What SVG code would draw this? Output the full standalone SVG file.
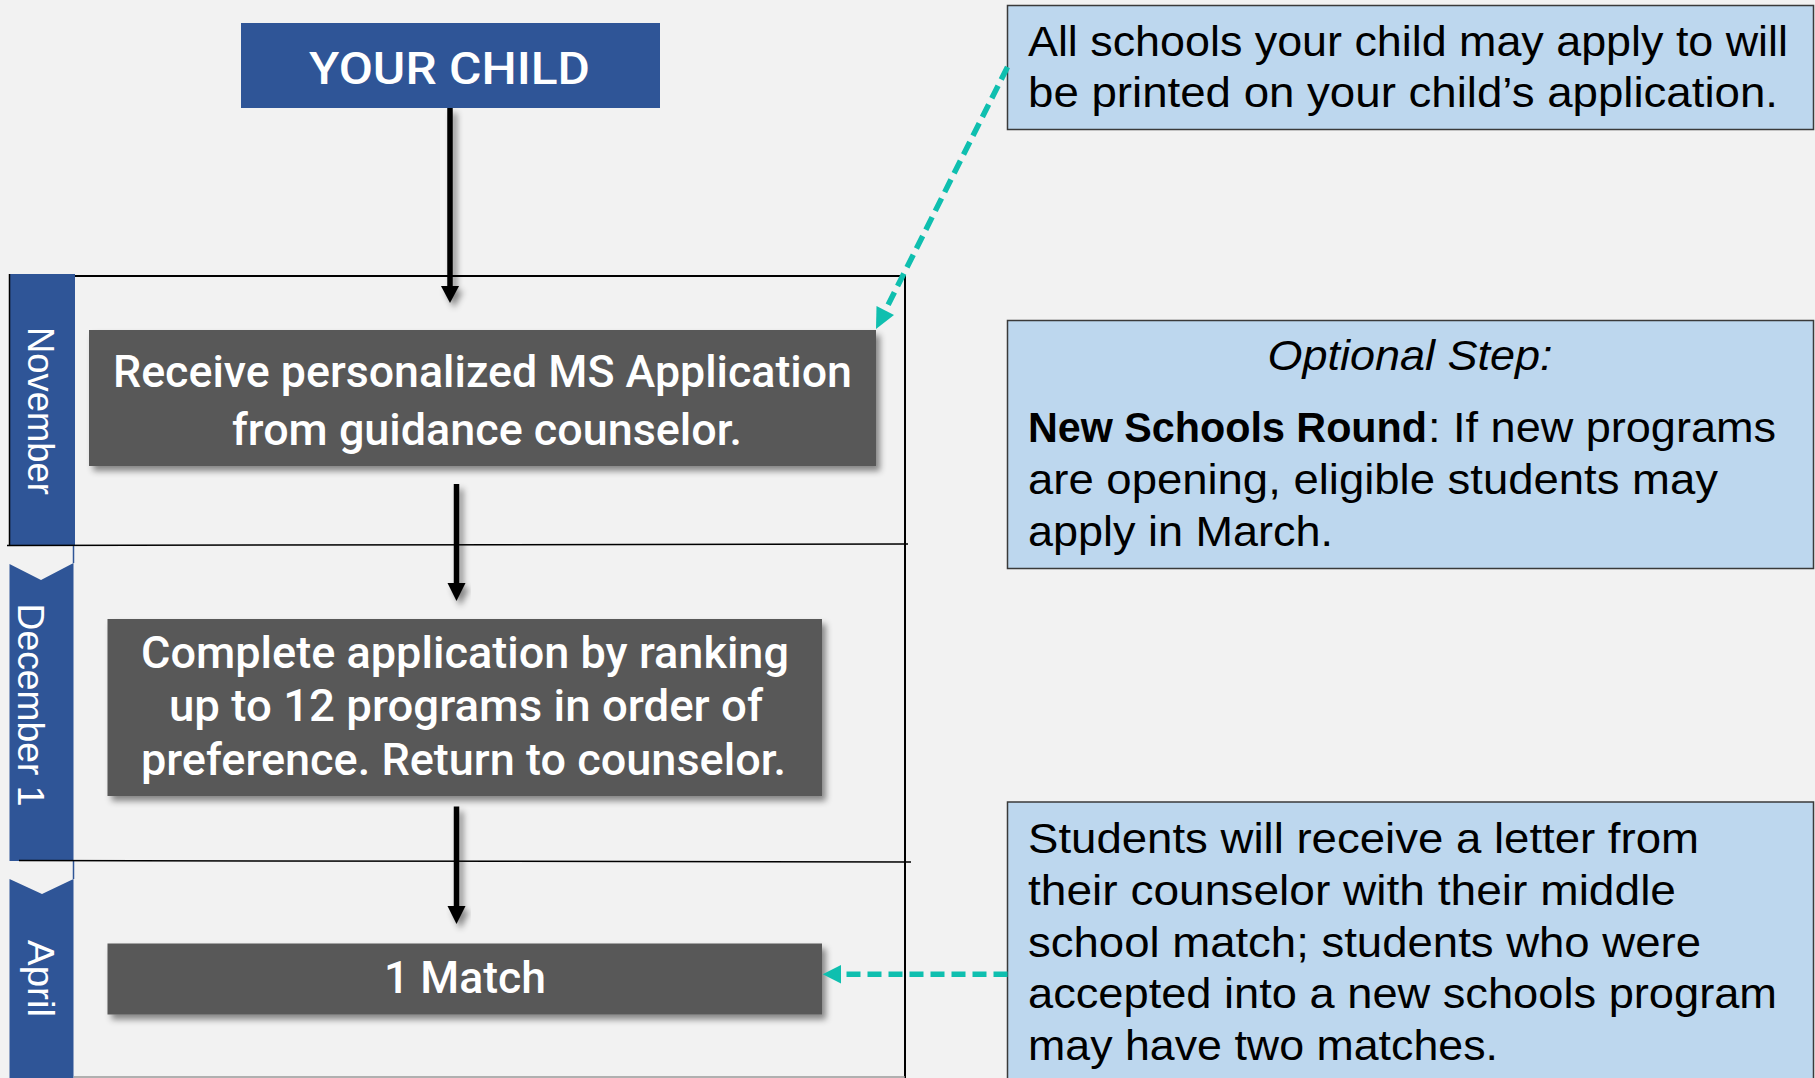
<svg xmlns="http://www.w3.org/2000/svg" width="1815" height="1078" viewBox="0 0 1815 1078">
<defs>
<style>
.bg{fill:#F2F2F2}
.lane{fill:#2F5597}
.lanetxt{font-family:"Liberation Sans",Arial,sans-serif;font-size:37px;fill:#FFFFFF}
.step{fill:#595959}
.wt{font-family:Roboto,"Liberation Sans",Arial,sans-serif;font-weight:500;font-size:45px;fill:#FFFFFF}
.note{fill:#BDD7EE;stroke:#3A3A3A;stroke-width:1.5}
.bt{font-family:"Liberation Sans",Arial,sans-serif;font-size:43px;fill:#000000}
.frame{stroke:#000000;stroke-width:2;fill:none}
.flow{stroke:#000000;stroke-width:5.5;fill:none}
.tealline{stroke:#0FBFAF;stroke-width:5.5;fill:none;stroke-dasharray:14 7}
.teal{fill:#0FBFAF}
</style>
<filter id="sh" x="-20%" y="-20%" width="140%" height="140%">
<feDropShadow dx="4" dy="5" stdDeviation="3" flood-color="#000000" flood-opacity="0.45"/>
</filter>
</defs>
<rect class="bg" x="0" y="0" width="1815" height="1078"/>

<g id="lanes">
<path class="lane" d="M9.5,274 H75 V546 H9.5 Z"/>
<line x1="9.5" y1="274" x2="9.5" y2="546" stroke="#000" stroke-width="1.5"/>
<path class="lane" d="M9.5,564 L41,580 L73.5,563 V861 H9.5 Z"/>
<line x1="73.5" y1="546" x2="73.5" y2="563" stroke="#2F5597" stroke-width="1.5"/>
<path class="lane" d="M9.5,879 L42,894 L73.5,879 V1078 H9.5 Z"/>
<line x1="73.5" y1="861" x2="73.5" y2="879" stroke="#2F5597" stroke-width="1.5"/>
<text class="lanetxt" transform="translate(28,327) rotate(90)" textLength="168" lengthAdjust="spacingAndGlyphs">November</text>
<text class="lanetxt" transform="translate(18,603.5) rotate(90)" textLength="203" lengthAdjust="spacingAndGlyphs">December 1</text>
<text class="lanetxt" transform="translate(28,940) rotate(90)" textLength="77" lengthAdjust="spacingAndGlyphs">April</text>
</g>

<g id="frame">
<line class="frame" x1="75" y1="276" x2="905" y2="276"/>
<line class="frame" x1="905" y1="275" x2="905" y2="1078"/>
<line x1="7" y1="545.5" x2="908" y2="544" stroke="#000" stroke-width="1.5"/>
<line x1="19" y1="860.5" x2="911" y2="862" stroke="#000" stroke-width="1.5"/>
<line x1="74" y1="1077" x2="905" y2="1077" stroke="#9A9A9A" stroke-width="1.5"/>
</g>

<g id="your-child">
<rect x="241" y="23" width="419" height="85" fill="#2F5597"/>
<text class="wt" x="449.5" y="84" text-anchor="middle" font-size="51" textLength="281" lengthAdjust="spacingAndGlyphs">YOUR CHILD</text>
</g>

<g id="step-receive">
<rect class="step" x="89" y="330" width="787" height="136" filter="url(#sh)"/>
<text class="wt" x="482.5" y="387" text-anchor="middle" textLength="739" lengthAdjust="spacingAndGlyphs">Receive personalized MS Application</text>
<text class="wt" x="487" y="444.5" text-anchor="middle" textLength="510" lengthAdjust="spacingAndGlyphs">from guidance counselor.</text>
</g>

<g id="step-complete">
<rect class="step" x="107.5" y="619" width="714.5" height="177" filter="url(#sh)"/>
<text class="wt" x="465" y="668" text-anchor="middle" textLength="648" lengthAdjust="spacingAndGlyphs">Complete application by ranking</text>
<text class="wt" x="466" y="721" text-anchor="middle" textLength="594" lengthAdjust="spacingAndGlyphs">up to 12 programs in order of</text>
<text class="wt" x="463.5" y="774.5" text-anchor="middle" textLength="645" lengthAdjust="spacingAndGlyphs">preference. Return to counselor.</text>
</g>

<g id="step-match">
<rect class="step" x="107.5" y="943.5" width="714.5" height="71" filter="url(#sh)"/>
<text class="wt" x="465" y="993" text-anchor="middle" textLength="162" lengthAdjust="spacingAndGlyphs">1 Match</text>
</g>

<g id="note-schools">
<rect class="note" x="1007.5" y="5.5" width="806" height="124"/>
<text class="bt" x="1028" y="56" textLength="760" lengthAdjust="spacingAndGlyphs">All schools your child may apply to will</text>
<text class="bt" x="1028" y="107" textLength="750" lengthAdjust="spacingAndGlyphs">be printed on your child’s application.</text>
</g>

<g id="note-optional">
<rect class="note" x="1007.5" y="320.5" width="806" height="248"/>
<text class="bt" x="1410" y="370" text-anchor="middle" font-style="italic" textLength="285" lengthAdjust="spacingAndGlyphs">Optional Step:</text>
<text class="bt" x="1028" y="442" font-weight="bold" textLength="399" lengthAdjust="spacingAndGlyphs">New Schools Round</text>
<text class="bt" x="1428" y="442" textLength="348" lengthAdjust="spacingAndGlyphs">: If new programs</text>
<text class="bt" x="1028" y="494" textLength="690" lengthAdjust="spacingAndGlyphs">are opening, eligible students may</text>
<text class="bt" x="1028" y="546" textLength="305" lengthAdjust="spacingAndGlyphs">apply in March.</text>
</g>

<g id="note-letter">
<rect class="note" x="1007.5" y="802" width="806" height="290"/>
<text class="bt" x="1028" y="852.5" textLength="671" lengthAdjust="spacingAndGlyphs">Students will receive a letter from</text>
<text class="bt" x="1028" y="905" textLength="648" lengthAdjust="spacingAndGlyphs">their counselor with their middle</text>
<text class="bt" x="1028" y="956.5" textLength="673" lengthAdjust="spacingAndGlyphs">school match; students who were</text>
<text class="bt" x="1028" y="1008" textLength="749" lengthAdjust="spacingAndGlyphs">accepted into a new schools program</text>
<text class="bt" x="1028" y="1060" textLength="470" lengthAdjust="spacingAndGlyphs">may have two matches.</text>
</g>

<g id="connectors">
<g filter="url(#sh)">
<line class="flow" x1="450" y1="108" x2="450" y2="288"/>
<polygon points="441,286 459,286 450,303" fill="#000"/>
<line class="flow" x1="456.5" y1="484" x2="456.5" y2="585"/>
<polygon points="447.5,583 465.5,583 456.5,601" fill="#000"/>
<line class="flow" x1="456.5" y1="806.5" x2="456.5" y2="908"/>
<polygon points="447.5,906 465.5,906 456.5,924" fill="#000"/>
</g>
<line class="tealline" x1="1007.5" y1="67" x2="885" y2="311"/>
<polygon class="teal" points="876,329 876.5,306 894,315"/>
<line class="tealline" x1="1007.5" y1="974.3" x2="840" y2="974.3"/>
<polygon class="teal" points="822.7,974.3 841,965 841,983.5"/>
</g>
</svg>
